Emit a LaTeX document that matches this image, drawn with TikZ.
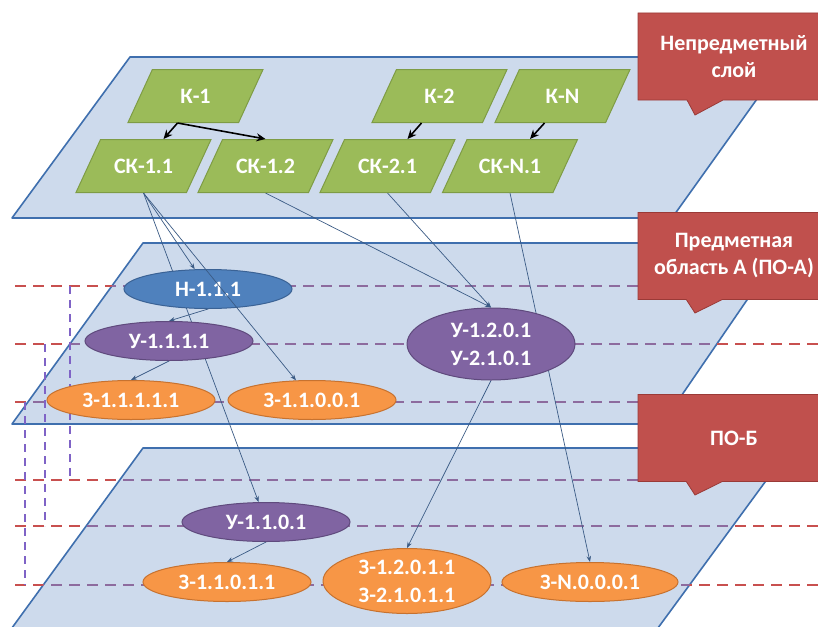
\documentclass[tikz,border=0pt]{standalone}
\usepackage{fontspec}
\setmainfont{Carlito}
\usetikzlibrary{arrows.meta,positioning,shapes.geometric,shapes.callouts}
\definecolor{PlaneFill}{HTML}{CDDAEC}
\definecolor{PlaneLine}{HTML}{3F6FAE}
\definecolor{Green}{HTML}{9BBB59}
\definecolor{GreenLine}{HTML}{7E9C45}
\definecolor{Blue}{HTML}{4F81BD}
\definecolor{BlueLine}{HTML}{3A6295}
\definecolor{Violet}{HTML}{8064A2}
\definecolor{VioletLine}{HTML}{5F4A7D}
\definecolor{Orange}{HTML}{F79646}
\definecolor{OrangeLine}{HTML}{C7722F}
\definecolor{Tag}{HTML}{C0504D}
\definecolor{TagLine}{HTML}{9A3A37}
\definecolor{DashRed}{HTML}{C8504F}
\definecolor{DashMauve}{HTML}{8D6B9E}
\definecolor{DashViolet}{HTML}{7F63C6}
\definecolor{Link}{HTML}{3B5B85}
\newcommand{\lblfont}{\fontsize{22}{28}\selectfont\bfseries}
\newcommand{\tagfont}{\fontsize{22}{27}\selectfont\bfseries}
\pgfdeclarelayer{planes}
\pgfdeclarelayer{links}
\pgfsetlayers{planes,links,main}

\begin{document}
\begin{tikzpicture}[x=1pt,y=-1pt,
plane/.style={draw=PlaneLine,line width=1.6pt,fill=PlaneFill,line join=round},
hdash/.style={draw=DashRed,line width=2.8pt,dash pattern=on 11pt off 7pt},
vdash/.style={draw=DashViolet,line width=2.4pt,dash pattern=on 8pt off 6pt},
kpar/.style={trapezium,trapezium left angle=65,trapezium right angle=115,trapezium stretches body,
  draw=GreenLine,fill=Green,line width=1pt,minimum width=135pt,minimum height=53pt,
  inner xsep=0pt,inner ysep=19pt,text=white,font=\lblfont},
oval/.style={ellipse,line width=1pt,minimum width=168pt,minimum height=39pt,inner sep=0pt,
  text=white,font=\lblfont,align=center},
nell/.style={oval,draw=BlueLine,fill=Blue},
uell/.style={oval,draw=VioletLine,fill=Violet},
zell/.style={oval,draw=OrangeLine,fill=Orange},
tag/.style={rectangle callout,callout pointer width=36pt,draw=TagLine,fill=Tag,line width=0.8pt,
  minimum width=192pt,minimum height=87pt,inner sep=0pt,text=white,font=\tagfont,align=center},
karrow/.style={-{Stealth[length=9pt,width=8pt]},line width=1.6pt,draw=black},
link/.style={-{Stealth[length=6pt,width=4.5pt]},line width=0.7pt,draw=Link}]
\useasboundingbox (0,0) rectangle (818,626);

\begin{pgfonlayer}{planes}
\fill[white] (0,0) rectangle (818,626);
% three layers
\draw[plane] (130,57) -- (787,57) -- (672,218) -- (12,218) -- cycle;
\draw[plane] (143,243) -- (786,243) -- (662,424) -- (12,424) -- cycle;
\draw[plane] (143,448) -- (790,448) -- (655,632) -- (9,632) -- cycle;
% guide lines
\foreach \y in {286,344,402,480,526,585}
  \draw[hdash] (15,\y) -- (818,\y);
\begin{scope}
\clip (130,57) -- (787,57) -- (672,218) -- (12,218) -- cycle
      (143,243) -- (786,243) -- (662,424) -- (12,424) -- cycle
      (143,448) -- (790,448) -- (655,632) -- (9,632) -- cycle;
\foreach \y in {286,344,402,480,526,585}
  \draw[hdash,draw=DashMauve] (15,\y) -- (818,\y);
\end{scope}
\draw[vdash] (70,286) -- (70,480);
\draw[vdash] (45,344) -- (45,526);
\draw[vdash] (25,402) -- (25,585);
\end{pgfonlayer}

% top layer
\node[kpar] (k1) at (195.5,96) {К-1};
\node[kpar] (k2) at (439.5,96) {К-2};
\node[kpar] (kn) at (562.5,96) {К-N};
\node[kpar] (sk11) at (143.5,166) {СК-1.1};
\node[kpar] (sk12) at (265.5,166) {СК-1.2};
\node[kpar] (sk21) at (387.5,166) {СК-2.1};
\node[kpar] (skn1) at (510,166) {СК-N.1};
\draw[karrow] ([xshift=-18pt]k1.south) -- ([xshift=20pt]sk11.north);
\draw[karrow] ([xshift=-18pt]k1.south) -- (sk12.north);
\draw[karrow] ([xshift=-18pt]k2.south) -- ([xshift=20pt]sk21.north);
\draw[karrow] ([xshift=-18pt]kn.south) -- ([xshift=20pt]skn1.north);

% subject areas
\node[nell] (n111) at (208,289) {Н-1.1.1};
\node[uell] (u1111) at (169,341) {У-1.1.1.1};
\node[uell,minimum height=72pt] (u1201) at (491,344) {У-1.2.0.1\\У-2.1.0.1};
\node[zell] (z11111) at (131,400) {З-1.1.1.1.1};
\node[zell] (z11001) at (312,400) {З-1.1.0.0.1};
\node[uell] (u1101) at (266,522) {У-1.1.0.1};
\node[zell] (z11011) at (227,582) {З-1.1.0.1.1};
\node[zell,minimum height=65pt] (z12011) at (407,581) {З-1.2.0.1.1\\З-2.1.0.1.1};
\node[zell,minimum width=176pt] (zn0001) at (590,582) {З-N.0.0.0.1};

\begin{pgfonlayer}{links}
\draw[link] (sk11.south) -- (n111);
\draw[link] (sk11.south) -- (u1101);
\draw[link] (sk12.south) -- (u1201.north);
\draw[link] (sk21.south) -- (u1201.north);
\draw[link] (skn1.south) -- (zn0001.north);
\draw[link] (n111.south) -- (u1111.north);
\draw[link] (u1111.south) -- (z11111.north);
\draw[link] (u1201.south) -- (z12011.north);
\draw[link] (u1101.south) -- (z11011.north);
\end{pgfonlayer}
\draw[link] (sk11.south) -- (z11001);

% layer tags
\node[tag,callout absolute pointer={(695,115)}] (tagtop) at (734,56.5) {Непредметный\\слой};
\node[tag,callout absolute pointer={(695,313)}] (tagmid) at (734,256) {Предметная\\область А (ПО-А)};
\node[tag,callout absolute pointer={(695,495)}] (tagbot) at (734,438) {ПО-Б};
\end{tikzpicture}
\end{document}
